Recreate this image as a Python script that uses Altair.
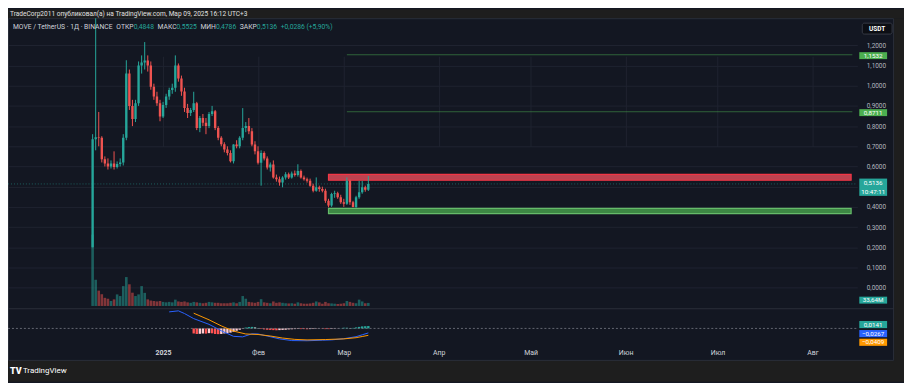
import altair as alt
import pandas as pd

# ---------------- data ----------------
START_DATE = "2024-12-09"
OPEN = [0.20, 0.735, 0.745, 0.742, 0.636, 0.615, 0.60, 0.615, 0.598, 0.612,
        0.62, 0.742, 1.06, 0.90, 0.835, 0.913, 1.10, 1.115, 1.125, 1.10,
        0.995, 0.946, 0.913, 0.848, 0.905, 0.946, 0.979, 0.99, 1.10, 1.036,
        0.971, 0.889, 0.865, 0.88, 0.913, 0.791, 0.84, 0.816, 0.80, 0.86,
        0.873, 0.79, 0.742, 0.71, 0.684, 0.667, 0.626, 0.709, 0.70, 0.742,
        0.791, 0.80, 0.775, 0.709, 0.676, 0.618, 0.667, 0.64, 0.595, 0.61,
        0.545, 0.537, 0.521, 0.546, 0.562, 0.546, 0.565, 0.558, 0.578, 0.546,
        0.537, 0.529, 0.505, 0.48, 0.497, 0.488, 0.48, 0.431, 0.407, 0.464,
        0.468, 0.448, 0.423, 0.415, 0.529, 0.423, 0.399, 0.448, 0.472, 0.497,
        0.4848]
HIGH = [0.76, 1.40, 0.87, 0.75, 0.65, 0.64, 0.63, 0.675, 0.625, 0.64,
        0.76, 1.126, 1.08, 0.93, 0.93, 1.12, 1.15, 1.216, 1.15, 1.12,
        1.01, 0.97, 0.93, 0.92, 0.96, 0.99, 1.01, 1.15, 1.11, 1.05,
        0.99, 0.91, 0.89, 0.97, 0.92, 0.85, 0.86, 0.84, 0.87, 0.90,
        0.88, 0.80, 0.75, 0.72, 0.70, 0.68, 0.71, 0.73, 0.75, 0.889,
        0.82, 0.84, 0.79, 0.725, 0.70, 0.68, 0.675, 0.65, 0.62, 0.63,
        0.56, 0.55, 0.552, 0.572, 0.57, 0.575, 0.58, 0.611, 0.585, 0.555,
        0.545, 0.54, 0.515, 0.546, 0.505, 0.50, 0.49, 0.44, 0.47, 0.48,
        0.475, 0.46, 0.44, 0.546, 0.535, 0.43, 0.455, 0.529, 0.529, 0.505,
        0.5525]
LOW = [0.20, 0.68, 0.70, 0.62, 0.60, 0.585, 0.59, 0.585, 0.59, 0.60,
       0.605, 0.73, 0.88, 0.80, 0.82, 0.90, 1.06, 1.08, 1.07, 0.98,
       0.93, 0.90, 0.824, 0.84, 0.89, 0.93, 0.96, 0.97, 1.02, 0.95,
       0.87, 0.84, 0.85, 0.87, 0.78, 0.77, 0.80, 0.76, 0.79, 0.85,
       0.78, 0.73, 0.70, 0.67, 0.655, 0.62, 0.615, 0.69, 0.69, 0.73,
       0.77, 0.76, 0.70, 0.66, 0.61, 0.505, 0.63, 0.585, 0.575, 0.54,
       0.525, 0.505, 0.497, 0.535, 0.538, 0.54, 0.55, 0.55, 0.54, 0.53,
       0.52, 0.50, 0.472, 0.475, 0.475, 0.472, 0.42, 0.398, 0.40, 0.445,
       0.44, 0.415, 0.40, 0.41, 0.41, 0.398, 0.395, 0.44, 0.465, 0.475,
       0.4786]
CLOSE = OPEN[1:] + [0.5136]
VOLUME_M = [790, 290, 170, 130, 90, 80, 55, 73, 128, 110,
            220, 320, 240, 147, 110, 128, 220, 145, 73, 60,
            55, 50, 55, 45, 40, 45, 40, 70, 50, 45,
            50, 40, 35, 45, 40, 35, 30, 35, 45, 40,
            35, 35, 30, 30, 30, 35, 40, 30, 45, 110,
            80, 45, 40, 35, 45, 75, 40, 35, 30, 50,
            35, 40, 35, 30, 28, 30, 25, 40, 30, 25,
            25, 28, 35, 50, 40, 25, 45, 30, 28, 25,
            22, 25, 30, 55, 45, 35, 30, 70, 50, 30,
            33.64]

MACD_DAY_IDX = [25, 28, 30, 33, 38, 42, 46, 49, 52, 54, 57, 61, 65, 70, 75, 78, 82, 86, 88, 90]
MACD_VAL = [0.098, 0.104, 0.088, 0.058, 0.024, -0.014, -0.047, -0.050, -0.032, -0.033,
            -0.045, -0.062, -0.072, -0.073, -0.070, -0.068, -0.061, -0.049, -0.038, -0.0267]
SIGNAL_DAY_IDX = [33, 38, 42, 46, 50, 54, 58, 62, 66, 70, 76, 82, 86, 88, 90]
SIGNAL_VAL = [0.090, 0.051, 0.015, -0.016, -0.033, -0.036, -0.045, -0.057, -0.065, -0.068,
              -0.066, -0.062, -0.055, -0.048, -0.0409]
HIST_START_IDX = 33
HIST = [-0.030, -0.033, -0.032, -0.030, -0.031, -0.028, -0.029, -0.033, -0.034, -0.033,
        -0.030, -0.028, -0.025, -0.020, -0.014, -0.008, -0.002, 0.005, 0.008, 0.009,
        0.006, 0.002, -0.003, -0.006, -0.008, -0.009, -0.010, -0.011, -0.010, -0.009,
        -0.008, -0.006, -0.005, -0.004, -0.003, -0.004, -0.004, -0.005, -0.004, -0.003,
        -0.002, -0.001, -0.002, -0.004, -0.004, -0.003, -0.002, -0.001, 0.001, 0.004,
        0.004, 0.002, 0.003, 0.006, 0.009, 0.012, 0.013, 0.0141]

PRICE_TICKS = [-0.1, 0.0, 0.1, 0.2, 0.3, 0.4, 0.5, 0.6, 0.7, 0.8, 0.9, 1.0, 1.1, 1.2]
HIDDEN_TICK = 0.5  # covered by the last-price label in the picture
MONTH_STARTS = ["2025-01-01", "2025-02-01", "2025-03-01", "2025-04-01",
                "2025-05-01", "2025-06-01", "2025-07-01", "2025-08-01"]
MONTH_LABELS = ["2025", "Фев", "Мар", "Апр", "Май", "Июн", "Июл", "Авг"]

LEVELS = [1.1532, 0.8711]
LEVEL_LABELS = ["1,1532", "0,8711"]
LEVEL_START = "2025-03-02"
ZONE_START = "2025-02-24"
ZONE_END_DAY = 224.6
RED_ZONE = [0.532, 0.561]
GREEN_ZONE = [0.367, 0.393]
LAST_PRICE = 0.5136
LAST_VOLUME = 33.64

TITLE = "TradeCorp2011 опубликовал(а) на TradingView.com, Мар 09, 2025 16:12 UTC+3"
HEAD_MAIN = "MOVE / TetherUS · 1Д · BINANCE"
HEAD_KEYS = ["ОТКР", "МАКС", "МИН", "ЗАКР"]
HEAD_VALS = ["0,4848", "0,5525", "0,4786", "0,5136"]
HEAD_CHANGE = "+0,0286 (+5,90%)"

# ---------------- styling ----------------
UP = "#26a69a"
DOWN = "#ef5350"
BG = "#131722"
FRAME = "#1e1e1e"
GRID = "#1f2330"
TXT = "#b2b5be"
FONT = "Roboto"

W, H = 855, 328
EPOCH = pd.Timestamp("2025-01-01")

# approximate Roboto advance widths (em) for laying out the legend row
EM = {"M": .872, "O": .688, "V": .636, "E": .568, " ": .248, "/": .412, "T": .61, "e": .529,
      "t": .327, "h": .551, "r": .338, "U": .651, "S": .593, "·": .27, ",": .196, "B": .622,
      "I": .272, "N": .713, "A": .652, "C": .652, "+": .567, "(": .342, ")": .348, "%": .733,
      "О": .688, "Т": .61, "К": .63, "Р": .63, "М": .872, "А": .652, "С": .652, "И": .713,
      "Н": .713, "З": .6, "Д": .7}


def text_w(s, size):
    return sum(EM.get(ch, .562) for ch in s) * size


def dnum(s):
    return float((pd.Timestamp(s) - EPOCH).days)


dates = pd.date_range(START_DATE, periods=len(OPEN), freq="D")
day = [float((t - EPOCH).days) for t in dates]
candles = pd.DataFrame({"d": day, "open": OPEN, "high": HIGH, "low": LOW,
                        "close": CLOSE, "vol": VOLUME_M})

macd = pd.DataFrame({"d": [day[i] for i in MACD_DAY_IDX], "v": MACD_VAL})
signal = pd.DataFrame({"d": [day[i] for i in SIGNAL_DAY_IDX], "v": SIGNAL_VAL})
hist_col = []
for j, h in enumerate(HIST):
    prev = HIST[j - 1] if j > 0 else h
    if h >= 0:
        hist_col.append("#26a69a" if h >= prev else "#b2dfdb")
    else:
        hist_col.append("#ffcdd2" if h > prev else "#ff5252")
hist = pd.DataFrame({"d": [day[HIST_START_IDX + j] for j in range(len(HIST))],
                     "h": HIST, "c": hist_col})

month_d = [dnum(m) for m in MONTH_STARTS]
x_label_expr = " : ".join(f"datum.value == {d} ? '{l}'" for d, l in zip(month_d, MONTH_LABELS)) + " : ''"

X_SCALE = alt.Scale(domain=[-49.0, 225.0], nice=False, zero=False)
X_AXIS = alt.Axis(values=month_d, labelExpr=x_label_expr, grid=True, gridColor=GRID,
                  ticks=False, domain=False, labelColor="#d1d4dc", labelFontSize=7,
                  labelFont=FONT, labelPadding=5, labelFlush=False, labelOverlap=False,
                  labelFontWeight=alt.condition("datum.value == 0", alt.value(700), alt.value(400)),
                  title=None)
Y_PRICE = alt.Scale(domain=[0.0, 1.2], range=[271.3, 27.3], nice=False, zero=False)
Y_VOL = alt.Scale(domain=[0.0, 1000.0], range=[289.7, 198.8], nice=False, zero=False)
Y_MACD = alt.Scale(domain=[-0.1, 0.1], range=[329.3, 295.3], nice=False, zero=False)
PRICE_AXIS = alt.Axis(orient="right", values=PRICE_TICKS,
                      labelExpr=f"abs(datum.value - {HIDDEN_TICK}) < 1e-9 ? '' : replace(format(datum.value, '.4f'), '.', ',')",
                      grid=True, gridColor=GRID, ticks=False, domain=False,
                      labelColor=TXT, labelFontSize=6.5, labelFont=FONT, labelPadding=9,
                      labelAlign="left", labelOverlap=False, title=None)


def X(field="d"):
    return alt.X(f"{field}:Q", scale=X_SCALE, axis=X_AXIS)


one = alt.Data(values=[{"a": 0}])
layers = []

# frame parts (title bar, footer, right strip) and pane border
layers.append(alt.Chart(one).mark_rect(color=FRAME).encode(
    x=alt.value(0), x2=alt.value(902), y=alt.value(-9), y2=alt.value(0)))
layers.append(alt.Chart(one).mark_rect(color=FRAME).encode(
    x=alt.value(0), x2=alt.value(902), y=alt.value(345), y2=alt.value(366)))
layers.append(alt.Chart(one).mark_rect(color=FRAME).encode(
    x=alt.value(892), x2=alt.value(902), y=alt.value(0), y2=alt.value(345)))
layers.append(alt.Chart(one).mark_rect(fillOpacity=0, stroke="#2a2e39", strokeWidth=1).encode(
    x=alt.value(0.5), x2=alt.value(891.5), y=alt.value(0.5), y2=alt.value(344.5)))
layers.append(alt.Chart(one).mark_rule(color="#2a2e39").encode(
    x=alt.value(0), x2=alt.value(892), y=alt.value(292.5)))

cond = alt.condition("datum.close >= datum.open", alt.value(UP), alt.value(DOWN))
base = alt.Chart(candles)

# volume
layers.append(base.mark_bar(size=2.6, opacity=0.5).encode(
    x=X(), y=alt.Y("vol:Q", scale=Y_VOL, axis=None), color=cond))

# zones
zones = pd.DataFrame({"d0": [dnum(ZONE_START)] * 2, "d1": [ZONE_END_DAY] * 2,
                      "lo": [RED_ZONE[0], GREEN_ZONE[0]], "hi": [RED_ZONE[1], GREEN_ZONE[1]],
                      "fill": ["#f7525f", "#4caf50"], "stroke": ["#f23645", "#66bb6a"]})
layers.append(alt.Chart(zones).mark_rect(fillOpacity=0.75, strokeWidth=1.2).encode(
    x=X("d0"), x2="d1:Q",
    y=alt.Y("lo:Q", scale=Y_PRICE, axis=None), y2="hi:Q",
    fill=alt.Fill("fill:N", scale=None), stroke=alt.Stroke("stroke:N", scale=None)))

# level lines
levels = pd.DataFrame({"d0": [dnum(LEVEL_START)] * len(LEVELS), "d1": [ZONE_END_DAY + 0.4] * len(LEVELS),
                       "p": LEVELS, "t": LEVEL_LABELS})
layers.append(alt.Chart(levels).mark_rule(color="#4caf50", opacity=0.5, strokeWidth=1).encode(
    x=X("d0"), x2="d1:Q", y=alt.Y("p:Q", scale=Y_PRICE, axis=None)))

# last price line
lastp = pd.DataFrame({"p": [LAST_PRICE], "v": [LAST_VOLUME]})
layers.append(alt.Chart(lastp).mark_rule(color=UP, opacity=0.5, strokeDash=[1, 2]).encode(
    x=alt.value(0), x2=alt.value(W), y=alt.Y("p:Q", scale=Y_PRICE, axis=None)))

# wicks (carry the price axis) and bodies
layers.append(base.mark_rule(clip=True, strokeWidth=1).encode(
    x=X(), y=alt.Y("low:Q", scale=Y_PRICE, axis=PRICE_AXIS), y2="high:Q", color=cond))
layers.append(base.mark_bar(size=2.4, clip=True).encode(
    x=X(), y=alt.Y("open:Q", scale=Y_PRICE, axis=None), y2="close:Q", color=cond))

# MACD pane
layers.append(alt.Chart(hist).mark_bar(size=2.4).encode(
    x=X(), y=alt.Y("h:Q", scale=Y_MACD, axis=None), color=alt.Color("c:N", scale=None)))
zero = pd.DataFrame({"z": [0.0]})
layers.append(alt.Chart(zero).mark_rule(color="#787b86", strokeDash=[2, 2], opacity=0.8).encode(
    x=alt.value(0), x2=alt.value(W), y=alt.Y("z:Q", scale=Y_MACD, axis=None)))
layers.append(alt.Chart(macd).mark_line(color="#2962ff", strokeWidth=1, clip=True).encode(
    x=X(), y=alt.Y("v:Q", scale=Y_MACD, axis=None)))
layers.append(alt.Chart(signal).mark_line(color="#ff9800", strokeWidth=1, clip=True).encode(
    x=X(), y=alt.Y("v:Q", scale=Y_MACD, axis=None)))

# right-side value labels
LX0, LX1, LXC = 857, 885, 871
LFS = 6.3
layers.append(alt.Chart(levels).mark_rect(color="#4caf50", yOffset=-2.6, y2Offset=4.4).encode(
    x=alt.value(LX0), x2=alt.value(LX1), y=alt.Y("p:Q", scale=Y_PRICE, axis=None), y2="p:Q"))
layers.append(alt.Chart(levels).mark_text(color="white", fontSize=LFS, font=FONT, align="center",
                                          baseline="middle", dy=1.0).encode(
    x=alt.value(LXC), y=alt.Y("p:Q", scale=Y_PRICE, axis=None), text="t:N"))

layers.append(alt.Chart(lastp).mark_rect(color=UP, yOffset=-5.4, y2Offset=12).encode(
    x=alt.value(LX0), x2=alt.value(LX1), y=alt.Y("p:Q", scale=Y_PRICE, axis=None), y2="p:Q"))
layers.append(alt.Chart(lastp).mark_text(color="white", fontSize=LFS, font=FONT, align="center", baseline="middle", dy=-0.6).encode(
    x=alt.value(LXC), y=alt.Y("p:Q", scale=Y_PRICE, axis=None), text=alt.value("0,5136")))
layers.append(alt.Chart(lastp).mark_text(color="white", fontSize=LFS, font=FONT, align="center", baseline="middle", dy=8.0).encode(
    x=alt.value(LXC), y=alt.Y("p:Q", scale=Y_PRICE, axis=None), text=alt.value("10:47:11")))

layers.append(alt.Chart(lastp).mark_rect(color=UP, yOffset=-6.3, y2Offset=0.7).encode(
    x=alt.value(LX0), x2=alt.value(LX1), y=alt.Y("v:Q", scale=Y_VOL, axis=None), y2="v:Q"))
layers.append(alt.Chart(lastp).mark_text(color="white", fontSize=LFS, font=FONT, align="center", baseline="middle", dy=-2.8).encode(
    x=alt.value(LXC), y=alt.Y("v:Q", scale=Y_VOL, axis=None), text=alt.value("33,64M")))

macd_labels = [(0.0141, "0,0141", UP, -1.5), (-0.0267, "−0,0267", "#2962ff", 0.7),
               (-0.0409, "−0,0409", "#ff9800", 7.0)]
for v, t, c, off in macd_labels:
    dfl = pd.DataFrame({"v": [v], "t": [t]})
    layers.append(alt.Chart(dfl).mark_rect(color=c, yOffset=off - 3.6, y2Offset=off + 3.6).encode(
        x=alt.value(LX0), x2=alt.value(LX1), y=alt.Y("v:Q", scale=Y_MACD, axis=None), y2="v:Q"))
    layers.append(alt.Chart(dfl).mark_text(color="white", fontSize=LFS, font=FONT, align="center",
                                           baseline="middle", dy=off).encode(
        x=alt.value(LXC), y=alt.Y("v:Q", scale=Y_MACD, axis=None), text="t:N"))

# USDT box
layers.append(alt.Chart(one).mark_rect(color="#0c0e14", stroke="#363a45", strokeWidth=1, cornerRadius=2).encode(
    x=alt.value(860), x2=alt.value(890), y=alt.value(5), y2=alt.value(16)))
layers.append(alt.Chart(one).mark_text(color="white", fontSize=6.5, font=FONT, fontWeight="bold",
                                       align="center", baseline="middle").encode(
    x=alt.value(875), y=alt.value(10.5), text=alt.value("USDT")))

# title bar text
layers.append(alt.Chart(one).mark_text(color="#e0e0e0", fontSize=6.6, font=FONT, align="left", baseline="middle").encode(
    x=alt.value(2), y=alt.value(-4.4), text=alt.value(TITLE)))

# legend row, laid out left to right
HFS = 6.8
GAP = 3.6
segments = [(HEAD_MAIN, "#d1d4dc", GAP)]
for k, v in zip(HEAD_KEYS, HEAD_VALS):
    segments.append((k, "#d1d4dc", 0.0))
    segments.append((v, UP, GAP))
segments.append((HEAD_CHANGE, UP, 0.0))
cx = 5.0
for s, col, gap in segments:
    layers.append(alt.Chart(one).mark_text(color=col, fontSize=HFS, font=FONT, align="left", baseline="middle").encode(
        x=alt.value(round(cx, 1)), y=alt.value(9), text=alt.value(s)))
    cx += text_w(s, HFS) + gap

# footer logo
layers.append(alt.Chart(one).mark_text(color="white", fontSize=9, font=FONT, fontWeight=900, align="left", baseline="middle").encode(
    x=alt.value(2), y=alt.value(355), text=alt.value("TV")))
layers.append(alt.Chart(one).mark_text(color="white", fontSize=8, font=FONT, align="left", baseline="middle").encode(
    x=alt.value(15), y=alt.value(355), text=alt.value("TradingView")))

chart = alt.layer(*layers).resolve_scale(y="independent").properties(
    width=W, height=H,
    autosize=alt.AutoSizeParams(type="none"),
    padding={"left": 0, "top": 9, "right": 47, "bottom": 38},
    background=BG,
).configure_view(strokeWidth=0)

chart.save("out.html", embed_options={"renderer": "svg", "actions": False})
